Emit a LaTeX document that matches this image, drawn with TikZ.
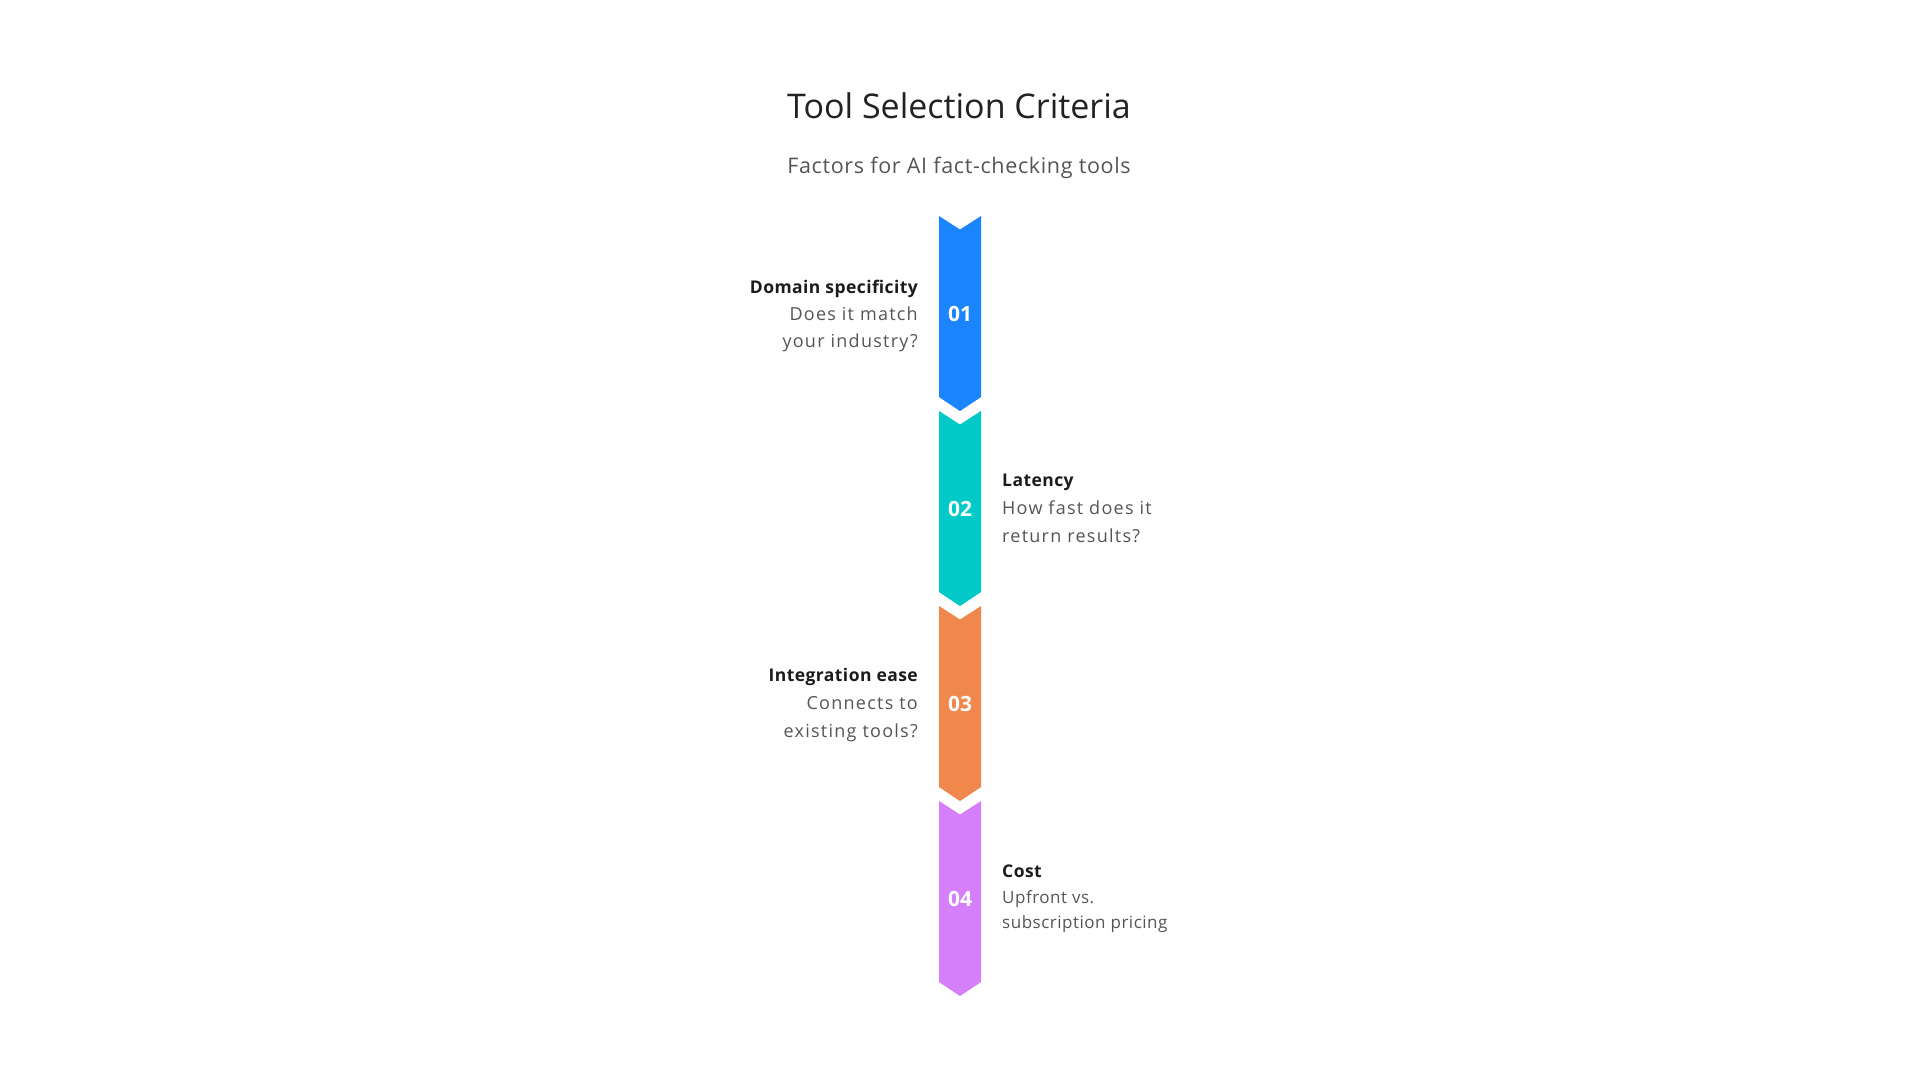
\documentclass[tikz,border=0pt]{standalone}
\usepackage{fontspec}
\setmainfont{Open Sans}
\definecolor{cblue}{HTML}{1A85FF}
\definecolor{cteal}{HTML}{00C9C8}
\definecolor{corange}{HTML}{F0884E}
\definecolor{cpurple}{HTML}{D57FFB}
\definecolor{ctitle}{HTML}{222222}
\definecolor{chead}{HTML}{1C1C1C}
\definecolor{cdesc}{HTML}{555555}
\tikzset{
  titletext/.style={inner sep=0pt, text=ctitle, font=\fontsize{34}{40}\selectfont},
  subtext/.style={inner sep=0pt, text=cdesc, font=\fontsize{21.5}{26}\selectfont\addfontfeatures{LetterSpace=3}},
  headtext/.style={inner sep=0pt, text=chead, font=\bfseries\fontsize{17.5}{22}\selectfont\addfontfeatures{LetterSpace=2.5}},
  desctext/.style={inner sep=0pt, text=cdesc, font=\fontsize{18}{22}\selectfont\addfontfeatures{LetterSpace=7}},
  smalldesc/.style={inner sep=0pt, text=cdesc, font=\fontsize{17}{22}\selectfont\addfontfeatures{LetterSpace=3}},
  numtext/.style={inner sep=0pt, text=white, font=\bfseries\fontsize{21}{24}\selectfont},
}
\newcommand{\chevseg}[2]{%
  \fill[#2] (939,#1) -- (960,#1+13.5) -- (981,#1) -- (981,#1+181) -- (960,#1+195) -- (939,#1+181) -- cycle;}
\begin{document}
\begin{tikzpicture}[x=1pt,y=-1pt]
\useasboundingbox[fill=white] (0,0) rectangle (1920,1080);
\node[titletext, anchor=base] (title) at (959,118) {Tool Selection Criteria};
\node[subtext, anchor=base] (sub) at (959,173) {Factors for AI fact-checking tools};
\chevseg{216}{cblue}
\chevseg{411}{cteal}
\chevseg{606}{corange}
\chevseg{801}{cpurple}
\node[numtext] (n1) at (960,314) {01};
\node[numtext] (n2) at (960,509) {02};
\node[numtext] (n3) at (960,704) {03};
\node[numtext] (n4) at (960,899) {04};
% 1
\node[headtext, anchor=base east] (h1) at (918,293) {Domain specificity};
\node[desctext, anchor=base east] (d1a) at (918,320) {Does it match};
\node[desctext, anchor=base east] (d1b) at (918,347) {your industry?};
% 2
\node[headtext, anchor=base west] (h2) at (1002,486) {Latency};
\node[desctext, anchor=base west] (d2a) at (1002,514) {How fast does it};
\node[desctext, anchor=base west] (d2b) at (1002,542) {return results?};
% 3
\node[headtext, anchor=base east] (h3) at (918,681) {Integration ease};
\node[desctext, anchor=base east] (d3a) at (918,709) {Connects to};
\node[desctext, anchor=base east] (d3b) at (918,737) {existing tools?};
% 4
\node[headtext, anchor=base west] (h4) at (1002,877) {Cost};
\node[smalldesc, anchor=base west] (d4a) at (1002,903) {Upfront vs.};
\node[smalldesc, anchor=base west] (d4b) at (1002,928) {subscription pricing};
\end{tikzpicture}
\end{document}
